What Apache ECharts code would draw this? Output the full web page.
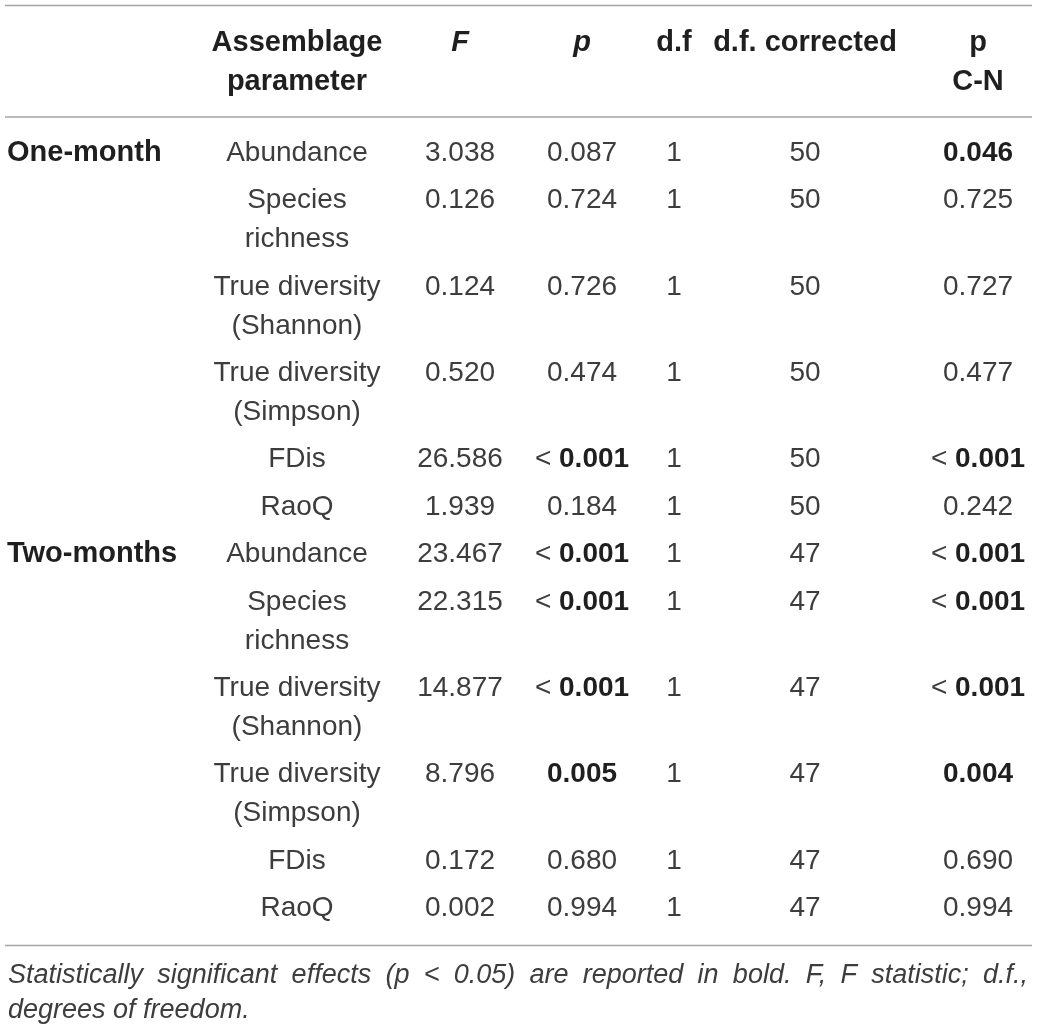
<!DOCTYPE html>
<html>
<head>
<meta charset="utf-8">
<title>Assemblage parameters</title>
<script src="https://cdn.jsdelivr.net/npm/echarts@6/dist/echarts.min.js"></script>
<style>
  html, body { margin: 0; padding: 0; background: #fff; }
  #chart { width: 1039px; height: 1030px; }
</style>
</head>
<body>
<div id="chart"></div>
<script>
// ---- table content ----
const groups = ['One-month', 'Two-months'];
const parameters = ['Abundance', 'Species\nrichness', 'True diversity\n(Shannon)', 'True diversity\n(Simpson)', 'FDis', 'RaoQ'];
const fStat = ['3.038', '0.126', '0.124', '0.520', '26.586', '1.939', '23.467', '22.315', '14.877', '8.796', '0.172', '0.002'];
const pValue = ['0.087', '0.724', '0.726', '0.474', '< 0.001', '0.184', '< 0.001', '< 0.001', '< 0.001', '0.005', '0.680', '0.994'];
const dfValue = ['1', '1', '1', '1', '1', '1', '1', '1', '1', '1', '1', '1'];
const dfCorrected = ['50', '50', '50', '50', '50', '50', '47', '47', '47', '47', '47', '47'];
const pCN = ['0.046', '0.725', '0.727', '0.477', '< 0.001', '0.242', '< 0.001', '< 0.001', '< 0.001', '0.004', '0.690', '0.994'];
const headers = ['', 'Assemblage\nparameter', 'F', 'p', 'd.f', 'd.f. corrected', 'p\nC-N'];
const footnote = ['Statistically significant effects (p < 0.05) are reported in bold. F, F statistic; d.f.,', 'degrees of freedom.'];

// ---- layout (pixels) ----
const W = 1039, H = 1030;
const FONT = '"Liberation Sans", Arial, Helvetica, sans-serif';
const SIZE = 28;
const HEAD_SIZE = 29;
const NOTE_SIZE = 27;
const colX = [7, 297, 460, 582, 674, 805, 978]; // group label is left aligned, the rest centred
const LINE = 39;     // line step inside one cell
const PITCH = 47.4;  // step between single-line rows
const headerY = 43;
const bodyY = 153;
const ruleLeft = 5, ruleRight = 1032;
const noteLeft = 8, noteRight = 1028;
const noteY = [975, 1010];

const TEXT = '#3d3d3d';
const BOLD = '#1f1f1f';

const ctx = document.createElement('canvas').getContext('2d');
function textWidth(s, font) {
    ctx.font = font;
    return ctx.measureText(s).width;
}

function isSignificant(s) {
    return s.trim().charAt(0) === '<' || parseFloat(s) < 0.05;
}

// 每一行的 y 位置，两行的单元格占更多空间
const rowY = [];
let y = bodyY;
for (let i = 0; i < fStat.length; i++) {
    rowY.push(y);
    const lines = parameters[i % parameters.length].split('\n').length;
    y += PITCH + (lines - 1) * LINE;
}
const rules = [ruleLeft + 0.5, bodyY - 36, rowY[rowY.length - 1] + 37];

const cells = [];
function addCell(x, yy, text, opt) {
    String(text).split('\n').forEach((t, k) => {
        cells.push(Object.assign({
            x: x, y: yy + k * LINE, text: t,
            align: 'center', weight: 'normal', fontStyle: 'normal',
            size: SIZE, color: TEXT
        }, opt));
    });
}

// header
headers.forEach((h, c) => {
    if (!h) return;
    const italic = (h === 'F' || h === 'p');
    addCell(colX[c], headerY, h, { weight: 'bold', fontStyle: italic ? 'italic' : 'normal', color: BOLD, size: HEAD_SIZE });
});

// body
const perGroup = parameters.length;
fStat.forEach((f, i) => {
    const yy = rowY[i];
    if (i % perGroup === 0) {
        addCell(colX[0], yy, groups[i / perGroup], { align: 'left', weight: 'bold', color: BOLD, size: HEAD_SIZE });
    }
    addCell(colX[1], yy, parameters[i % perGroup]);
    addCell(colX[2], yy, f);
    [pValue[i], null, null, pCN[i]].forEach((v, k) => {
        if (v === null) return;
        const col = k === 0 ? 3 : 6;
        if (v.charAt(0) === '<') {
            addCell(colX[col], yy, v, { rich: true });
        } else if (isSignificant(v)) {
            addCell(colX[col], yy, v, { weight: 'bold', color: BOLD });
        } else {
            addCell(colX[col], yy, v);
        }
    });
    addCell(colX[4], yy, dfValue[i]);
    addCell(colX[5], yy, dfCorrected[i]);
});

// footnote: first line justified to the table width
const noteFont = 'italic ' + NOTE_SIZE + 'px ' + FONT;
footnote.forEach((line, li) => {
    const words = line.split(' ');
    if (li === 0) {
        const widths = words.map(w => textWidth(w, noteFont));
        const total = widths.reduce((a, b) => a + b, 0);
        const gap = (noteRight - noteLeft - total) / (words.length - 1);
        let x = noteLeft;
        words.forEach((w, k) => {
            addCell(x, noteY[li], w, { align: 'left', fontStyle: 'italic', size: NOTE_SIZE });
            x += widths[k] + gap;
        });
    } else {
        addCell(noteLeft, noteY[li], line, { align: 'left', fontStyle: 'italic', size: NOTE_SIZE });
    }
});

const chart = echarts.init(document.getElementById('chart'));
chart.setOption({
    animation: false,
    backgroundColor: '#fff',
    grid: { left: 0, right: 0, top: 0, bottom: 0 },
    xAxis: { type: 'value', min: 0, max: W, show: false },
    yAxis: { type: 'value', min: 0, max: H, inverse: true, show: false },
    series: [
        {
            // 表格的横线
            type: 'custom',
            silent: true,
            clip: false,
            data: rules.map(r => [ruleLeft, ruleRight, r]),
            renderItem: (params, api) => {
                const a = api.coord([api.value(0), api.value(2)]);
                const b = api.coord([api.value(1), api.value(2)]);
                return {
                    type: 'line',
                    shape: { x1: a[0], y1: a[1], x2: b[0], y2: b[1] },
                    style: { stroke: '#a3a3a3', lineWidth: 1.5 }
                };
            }
        },
        {
            // 单元格文字
            type: 'custom',
            silent: true,
            clip: false,
            data: cells.map(c => [c.x, c.y]),
            renderItem: (params, api) => {
                const c = cells[params.dataIndex];
                const p = api.coord([api.value(0), api.value(1)]);
                const style = {
                    x: p[0], y: p[1],
                    align: c.align, verticalAlign: 'middle',
                    fontFamily: FONT, fontSize: c.size,
                    fontWeight: c.weight, fontStyle: c.fontStyle,
                    fill: c.color
                };
                if (c.rich) {
                    const num = c.text.replace('<', '').trim();
                    style.text = '{r|< }{b|' + num + '}';
                    style.rich = {
                        r: { fontFamily: FONT, fontSize: c.size, fontWeight: 'normal', fill: TEXT, color: TEXT },
                        b: { fontFamily: FONT, fontSize: c.size, fontWeight: 'bold', fill: BOLD, color: BOLD }
                    };
                } else {
                    style.text = c.text;
                }
                return { type: 'text', style: style };
            }
        }
    ]
});
</script>
</body>
</html>
